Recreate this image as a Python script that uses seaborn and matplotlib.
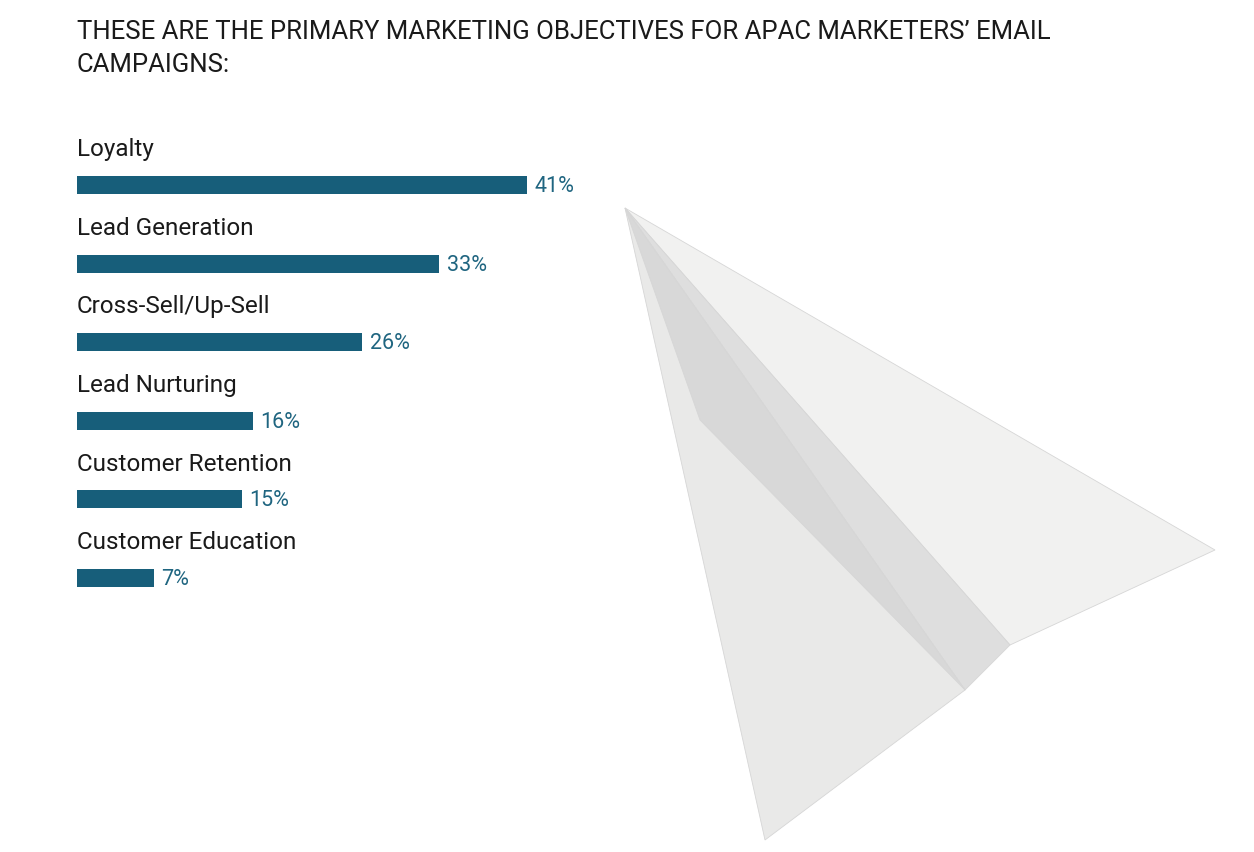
import matplotlib
matplotlib.use("Agg")
import matplotlib.pyplot as plt
import seaborn as sns
import pandas as pd
from matplotlib.patches import Polygon

categories = ["Loyalty", "Lead Generation", "Cross-Sell/Up-Sell", "Lead Nurturing",
              "Customer Retention", "Customer Education"]
values = [41, 33, 26, 16, 15, 7]
title = "THESE ARE THE PRIMARY MARKETING OBJECTIVES FOR APAC MARKETERS\u2019 EMAIL\nCAMPAIGNS:"

W, H = 1254, 852
fig = plt.figure(figsize=(W/100, H/100), dpi=100)
fig.patch.set_facecolor("white")

def fx(x): return x / W
def fy(y): return 1 - y / H

# decorative paper plane
shapes = [
    ([(625, 208), (1215, 550), (1010, 645)], "#f1f1f0"),
    ([(625, 208), (1010, 645), (965, 690)], "#dedede"),
    ([(625, 208), (965, 690), (765, 840)], "#e9e9e8"),
    ([(625, 208), (700, 420), (965, 690)], "#d8d8d8"),
]
for pts, c in shapes:
    fig.patches.append(Polygon([(fx(x), fy(y)) for x, y in pts], closed=True,
                               transform=fig.transFigure, facecolor=c, edgecolor="#d6d6d6",
                               lw=0.6, zorder=0))

step = 78.6
top = 185 - step / 2
ax = fig.add_axes([fx(77), fy(top + 6 * step), fx(W - 77), 6 * step / H])
ax.set_facecolor("none")
df = pd.DataFrame({"cat": categories, "val": values})
sns.barplot(data=df, x="val", y="cat", color="#175e7a", width=18 / step,
            saturation=1, ax=ax, orient="h")
ax.set_xlim(0, (W - 77) / 10.98)
ax.set_ylim(5.5, -0.5)
ax.axis("off")
for i, (c, v) in enumerate(zip(categories, values)):
    ax.text(0, i - 0.45, c, fontsize=17.5, color="#1a1a1a", va="center", ha="left",
            family="Roboto")
    ax.text(v + 0.7, i + 0.02, f"{v}%", fontsize=15.5, color="#1f6580", va="center",
            ha="left", family="Roboto")

fig.text(fx(77), fy(20), title, fontsize=18.5, color="#1a1a1a", va="top", ha="left",
         family="Roboto", linespacing=1.45)
fig.savefig("out.png", dpi=100)
